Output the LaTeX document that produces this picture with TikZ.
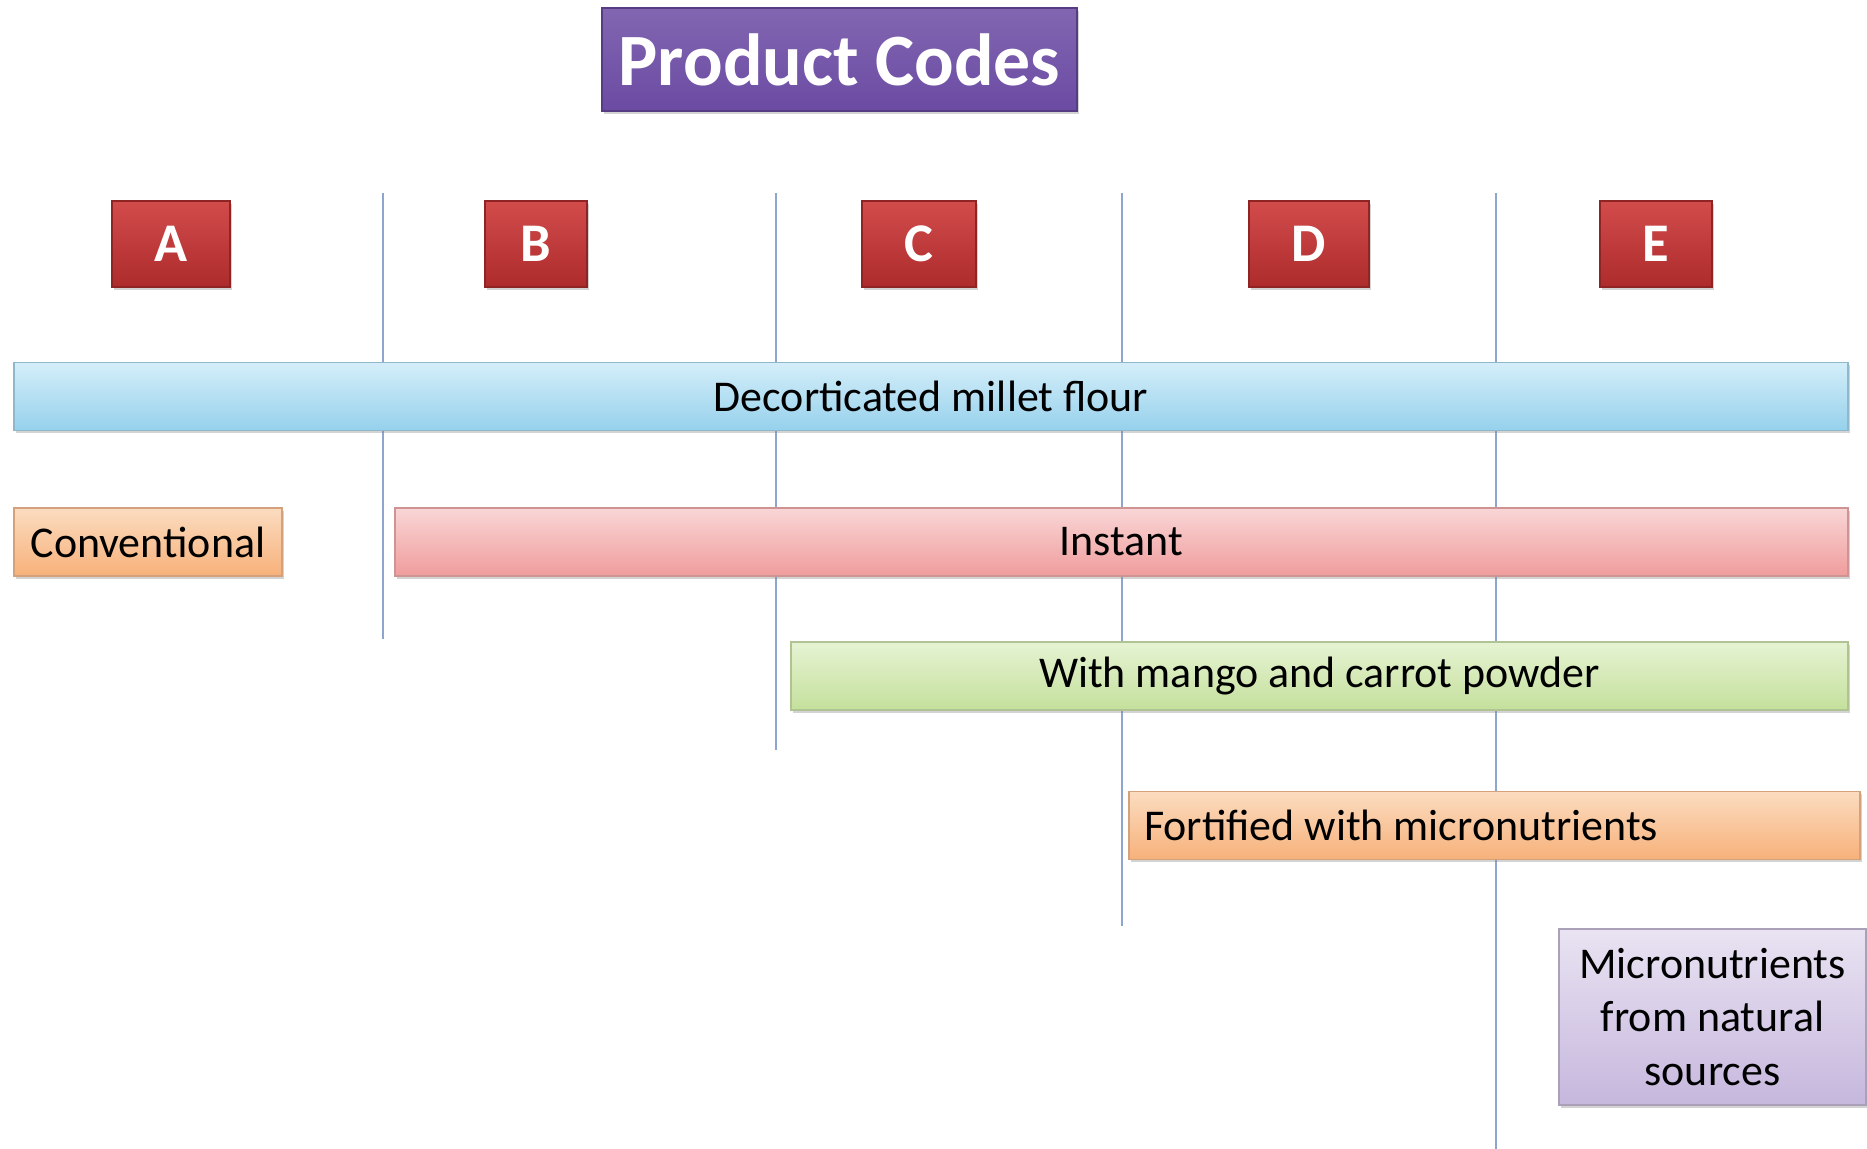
\documentclass[tikz,border=0pt]{standalone}
\usepackage{fontspec}
\setmainfont{Carlito}
\usetikzlibrary{shadows}

\definecolor{titlepurple}{HTML}{6B4BA3}
\definecolor{codered}{HTML}{CC3333}
\definecolor{divblue}{HTML}{8EA6CF}
\definecolor{bluetop}{HTML}{D4EEF9}
\definecolor{bluebot}{HTML}{96D1EC}
\definecolor{orangetop}{HTML}{FBDCC0}
\definecolor{orangebot}{HTML}{F7B17A}
\definecolor{pinktop}{HTML}{F9D6D6}
\definecolor{pinkbot}{HTML}{F09C9C}
\definecolor{greentop}{HTML}{E6F3D3}
\definecolor{greenbot}{HTML}{C4E09C}
\definecolor{lilactop}{HTML}{E9E3F2}
\definecolor{lilacbot}{HTML}{C6B7DD}

\tikzset{
  box/.style={draw,line width=0.6pt,inner sep=0pt,
    drop shadow={opacity=0.35,shadow xshift=1.2pt,shadow yshift=-1.6pt}},
  titlebox/.style={box,draw=titlepurple!80!black,top color=titlepurple!85!white,
    bottom color=titlepurple,text=white,font=\fontsize{42}{44}\selectfont\bfseries},
  codebox/.style={box,draw=codered!70!black,top color=codered!88!white,
    bottom color=codered!85!black,text=white,minimum height=86*0.02cm,
    font=\fontsize{31}{33}\selectfont\bfseries},
  bar/.style={box,minimum height=68*0.02cm,font=\fontsize{25}{30}\selectfont},
  bluebar/.style={bar,draw=bluebot!70!gray,top color=bluetop,bottom color=bluebot},
  orangebar/.style={bar,draw=orangebot!70!gray,top color=orangetop,bottom color=orangebot},
  pinkbar/.style={bar,draw=pinkbot!70!gray,top color=pinktop,bottom color=pinkbot},
  greenbar/.style={bar,draw=greenbot!70!gray,top color=greentop,bottom color=greenbot},
  lilacbar/.style={bar,draw=lilacbot!60!gray,top color=lilactop,bottom color=lilacbot},
  divider/.style={divblue,line width=1pt}
}

\begin{document}
\begin{tikzpicture}[x=0.02cm,y=-0.02cm]
    \useasboundingbox (0,0) rectangle (1867,1149);

    % dividers between the codes
    \foreach \x/\yend in {383/639,776/750,1122/926,1496/1149} {
        \draw [divider] (\x,193) -- (\x,\yend);
    }

    % title
    \node [titlebox,minimum width=475*0.02cm,minimum height=103*0.02cm] (title) at (839.5,59.5) {Product Codes};

    % codes
    \node [codebox,minimum width=118*0.02cm] (codeA) at (171,244) {A};
    \node [codebox,minimum width=102*0.02cm] (codeB) at (536,244) {B};
    \node [codebox,minimum width=114*0.02cm] (codeC) at (919,244) {C};
    \node [codebox,minimum width=120*0.02cm] (codeD) at (1309,244) {D};
    \node [codebox,minimum width=112*0.02cm] (codeE) at (1656,244) {E};

    % ingredients
    \node [bluebar,minimum width=1834*0.02cm] (flour) at (931,396.5) {Decorticated millet flour};
    \node [orangebar,minimum width=268*0.02cm] (conv) at (148,542) {Conventional};
    \node [pinkbar,minimum width=1453*0.02cm] (instant) at (1121.5,542) {Instant};
    \node [greenbar,minimum width=1057*0.02cm] (mango) at (1319.5,676) {With mango and carrot powder};
    \node [orangebar,minimum width=731*0.02cm,text width=731*0.02cm-30*0.02cm,align=flush left] (fort) at (1494.5,825.5) {Fortified with micronutrients};
    \node [lilacbar,minimum width=307*0.02cm,minimum height=176*0.02cm,align=center,
        font=\fontsize{25}{30.5}\selectfont] (natural) at (1712.5,1017) {Micronutrients\\from natural\\sources};

\end{tikzpicture}
\end{document}
